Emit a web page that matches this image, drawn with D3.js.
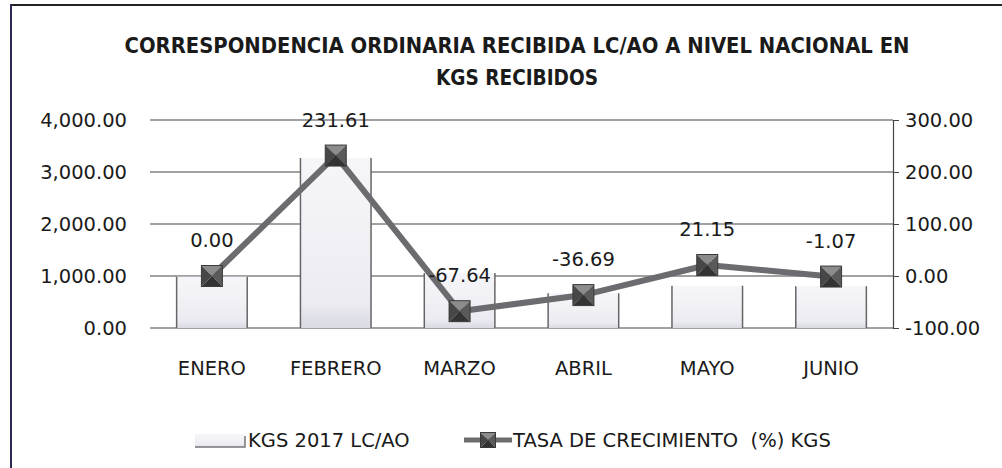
<!DOCTYPE html>
<html>
<head>
<meta charset="utf-8">
<title>correspondencia ordinaria</title>
<script src="https://d3js.org/d3.v7.min.js"></script>
<style>
  body { margin: 0; background: #fff; }
  text { font-family: "DejaVu Sans", sans-serif; fill: #1a1a1a; white-space: pre; }
</style>
</head>
<body>
<script>
  const months = ['ENERO', 'FEBRERO', 'MARZO', 'ABRIL', 'MAYO', 'JUNIO'];
  const kgs = [986, 3270, 1058, 670, 812, 803];
  const tasa = [0.00, 231.61, -67.64, -36.69, 21.15, -1.07];
  const leftTicks = [0, 1000, 2000, 3000, 4000];
  const rightTicks = [-100, 0, 100, 200, 300];
  const titleLines = ['CORRESPONDENCIA ORDINARIA RECIBIDA LC/AO A NIVEL NACIONAL EN', 'KGS RECIBIDOS'];
  const legendNames = ['KGS 2017 LC/AO', 'TASA DE CRECIMIENTO  (%) KGS'];

  const width = 1002, height = 468;
  const plotLeft = 150, plotRight = 893, plotTop = 120, plotBottom = 328;
  const fs = '19.5px';

  const svg = d3.select('body').append('svg')
    .attr('width', width).attr('height', height);

  // frame
  svg.append('line').attr('x1', 11).attr('x2', width).attr('y1', 5).attr('y2', 5)
    .attr('stroke', '#222').attr('stroke-width', 2);
  svg.append('line').attr('x1', 11).attr('x2', 11).attr('y1', 4).attr('y2', height)
    .attr('stroke', '#2a2a55').attr('stroke-width', 2);

  const defs = svg.append('defs');
  const grad = defs.append('linearGradient').attr('id', 'barfill')
    .attr('x1', 0).attr('x2', 0).attr('y1', 0).attr('y2', 1);
  grad.append('stop').attr('offset', '0%').attr('stop-color', '#f6f6fa');
  grad.append('stop').attr('offset', '85%').attr('stop-color', '#ebebf1');
  grad.append('stop').attr('offset', '100%').attr('stop-color', '#dadae3');

  const x = d3.scaleBand().domain(months).range([plotLeft, plotRight]).paddingInner(0.43).paddingOuter(0.215);
  const yL = d3.scaleLinear().domain([0, 4000]).range([plotBottom, plotTop]);
  const yR = d3.scaleLinear().domain([-100, 300]).range([plotBottom, plotTop]);

  // title
  svg.append('g').selectAll('text').data(titleLines).enter().append('text')
    .attr('x', 517).attr('y', (d, i) => 53 + i * 32)
    .attr('text-anchor', 'middle')
    .attr('textLength', (d, i) => i === 0 ? 785 : 162)
    .attr('lengthAdjust', 'spacingAndGlyphs')
    .style('font-family', '"DejaVu Sans Condensed", "DejaVu Sans", sans-serif')
    .style('font-weight', 'bold').style('font-size', '21px')
    .text(d => d);

  // grid lines
  svg.append('g').selectAll('line').data(leftTicks).enter().append('line')
    .attr('x1', plotLeft).attr('x2', plotRight)
    .attr('y1', d => yL(d)).attr('y2', d => yL(d))
    .attr('stroke', '#444').attr('stroke-width', 1.2);

  // bars
  const bars = svg.append('g').selectAll('g').data(months).enter().append('g');
  bars.append('rect')
    .attr('x', d => x(d)).attr('width', x.bandwidth())
    .attr('y', (d, i) => yL(kgs[i])).attr('height', (d, i) => yL(0) - yL(kgs[i]))
    .attr('fill', 'url(#barfill)');
  bars.append('path')
    .attr('d', (d, i) => `M${x(d)},${yL(0)}V${yL(kgs[i])}M${x(d) + x.bandwidth()},${yL(kgs[i])}V${yL(0)}`)
    .attr('stroke', '#666').attr('stroke-width', 1.5).attr('fill', 'none');

  // left axis labels
  const yAxisL = d3.axisLeft(yL).tickValues(leftTicks).tickSize(0).tickPadding(23)
    .tickFormat(d3.format(',.2f'));
  svg.append('g').attr('transform', `translate(${plotLeft},0)`).call(yAxisL)
    .call(g => g.select('.domain').remove())
    .selectAll('text').style('font-size', fs).attr('fill', '#1a1a1a');

  // right axis
  const yAxisR = d3.axisRight(yR).tickValues(rightTicks).tickSize(6).tickPadding(6)
    .tickFormat(d => d3.format('.2f')(d).replace('−', '-'));
  const gR = svg.append('g').attr('transform', `translate(${plotRight},0)`).call(yAxisR);
  gR.select('.domain').attr('stroke', '#444').attr('stroke-width', 1.2);
  gR.selectAll('line').attr('stroke', '#444');
  gR.selectAll('text').style('font-size', fs).attr('fill', '#1a1a1a');

  // x axis labels
  svg.append('g').selectAll('text').data(months).enter().append('text')
    .attr('x', d => x(d) + x.bandwidth() / 2).attr('y', 375)
    .attr('text-anchor', 'middle').style('font-size', fs)
    .text(d => d);

  // growth line
  const pts = months.map((m, i) => [x(m) + x.bandwidth() / 2, yR(tasa[i])]);
  svg.append('path').datum(pts)
    .attr('d', d3.line())
    .attr('fill', 'none').attr('stroke', '#6c6c70').attr('stroke-width', 6)
    .attr('stroke-linejoin', 'round');

  function marker(g, cx, cy, s) {
    const h = s / 2;
    const faces = [
      [[cx - h, cy - h], [cx + h, cy - h], [cx, cy], '#8c8c8c'],
      [[cx + h, cy - h], [cx + h, cy + h], [cx, cy], '#5a5a5a'],
      [[cx + h, cy + h], [cx - h, cy + h], [cx, cy], '#333'],
      [[cx - h, cy + h], [cx - h, cy - h], [cx, cy], '#474747']
    ];
    faces.forEach(f => {
      g.append('path').attr('d', d3.line()(f.slice(0, 3)) + 'Z').attr('fill', f[3]);
    });
    g.append('rect').attr('x', cx - h).attr('y', cy - h).attr('width', s).attr('height', s)
      .attr('fill', 'none').attr('stroke', '#3a3a3a').attr('stroke-width', 1);
  }

  const mk = svg.append('g');
  pts.forEach(p => marker(mk, p[0], p[1], 21));

  // data labels
  svg.append('g').selectAll('text').data(tasa).enter().append('text')
    .attr('x', (d, i) => pts[i][0]).attr('y', (d, i) => pts[i][1] - 29)
    .attr('text-anchor', 'middle').style('font-size', fs)
    .text(d => d.toFixed(2));

  // legend
  const lg = svg.append('g');
  lg.append('rect').attr('x', 195).attr('y', 434).attr('width', 50).attr('height', 13)
    .attr('fill', 'url(#barfill)');
  lg.append('path').attr('d', 'M195,447H245V436')
    .attr('stroke', '#777').attr('stroke-width', 1.5).attr('fill', 'none');
  lg.append('text').attr('x', 248).attr('y', 447).style('font-size', fs).text(legendNames[0]);

  lg.append('line').attr('x1', 464).attr('x2', 512).attr('y1', 440).attr('y2', 440)
    .attr('stroke', '#6c6c70').attr('stroke-width', 5);
  marker(lg, 488, 440, 15);
  lg.append('text').attr('x', 513).attr('y', 447).style('font-size', fs).text(legendNames[1]);
</script>
</body>
</html>
